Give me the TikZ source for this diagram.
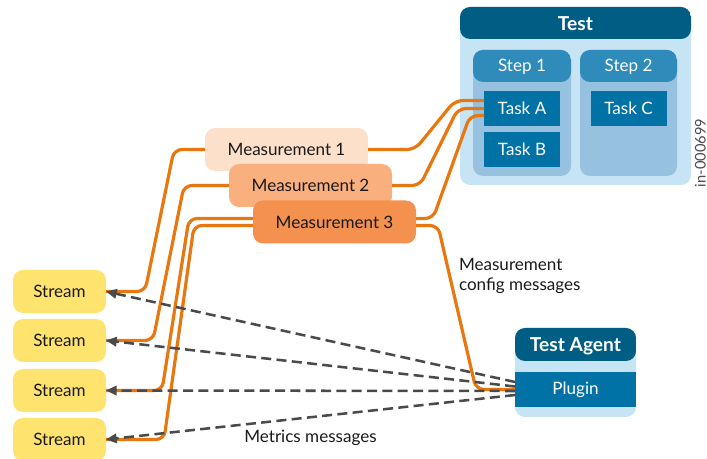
\documentclass[tikz,border=0pt]{standalone}
\usepackage{fontspec}
\setmainfont{Lato}
\usetikzlibrary{arrows.meta,calc}
\definecolor{darkblue}{HTML}{005E85}
\definecolor{testbody}{HTML}{C6E4F4}
\definecolor{stephead}{HTML}{2E8BBA}
\definecolor{stepbody}{HTML}{96C2E0}
\definecolor{taskblue}{HTML}{0072A6}
\definecolor{orangeln}{HTML}{E8770F}
\definecolor{mone}{HTML}{FDE0C9}
\definecolor{mtwo}{HTML}{F9B07E}
\definecolor{mthree}{HTML}{F4914F}
\definecolor{streamc}{HTML}{FFE36F}
\definecolor{dashc}{HTML}{4A4A4A}
\definecolor{txt}{HTML}{1A1A1A}
\begin{document}
\begin{tikzpicture}[x=0.75pt,y=-0.75pt,
  every node/.style={inner sep=0pt,outer sep=0pt},
  regfont/.style={font=\fontsize{12.8}{15.5}\selectfont},
  boldfont/.style={font=\fontsize{14.4}{17}\selectfont\bfseries},
  meas/.style={regfont,text=txt,rounded corners=7.5pt,minimum width=122.25pt,minimum height=32.25pt},
  streambox/.style={regfont,text=txt,fill=streamc,rounded corners=7.5pt,minimum width=69.75pt,minimum height=32.25pt},
  task/.style={regfont,text=white,fill=taskblue,minimum width=57pt,minimum height=26.25pt},
  headed/.style 2 args={rounded corners=7.5pt,fill=#1,path picture={\fill[#2] (path picture bounding box.north west) rectangle ([yshift=-24pt]path picture bounding box.north east);}},
  orangeline/.style={draw=orangeln,line width=2.4pt,rounded corners=6pt},
  msgline/.style={draw=dashc,line width=1.9pt,dash pattern=on 7.5pt off 4pt,-{Triangle[length=8pt,width=7pt]}},
  lbl/.style={regfont,text=txt}
]
\useasboundingbox (0,0) rectangle (707,459);

% Test block
\node[headed={testbody}{darkblue},minimum width=173.25pt,minimum height=133.5pt] (test) at (575.5,96) {};
\node[boldfont,text=white] (testtitle) at (575.5,23.5) {Test};
\node[headed={stepbody}{stephead},minimum width=73.5pt,minimum height=94.5pt] (step1) at (522,113) {};
\node[regfont,text=white] (step1title) at (522,66.5) {Step 1};
\node[headed={stepbody}{stephead},minimum width=72.75pt,minimum height=94.5pt] (step2) at (628.5,113) {};
\node[regfont,text=white] (step2title) at (628.5,66.5) {Step 2};
\node[task] (taskA) at (522,108.5) {Task A};
\node[task] (taskB) at (522,149.5) {Task B};
\node[task] (taskC) at (628.5,108.5) {Task C};

% Test agent
\node[rounded corners=7.5pt,fill=testbody,minimum width=90.75pt,minimum height=66.75pt,
  path picture={\fill[darkblue] (path picture bounding box.north west) rectangle ([yshift=-24.75pt]path picture bounding box.north east);}] (agent) at (575.5,372.5) {};
\node[boldfont,text=white] (agenttitle) at (575.5,346.5) {Test Agent};
\node[regfont,text=white,fill=taskblue,minimum width=90.75pt,minimum height=26.25pt] (plugin) at (575.5,389.5) {Plugin};

% Measurements
\node[meas,fill=mone] (m1) at (286.5,149.5) {Measurement 1};
\node[meas,fill=mtwo] (m2) at (310.5,185.5) {Measurement 2};
\node[meas,fill=mthree] (m3) at (334.5,222) {Measurement 3};

% Streams
\node[streambox] (s1) at (59.5,291.5) {Stream};
\node[streambox] (s2) at (59.5,340.5) {Stream};
\node[streambox] (s3) at (59.5,390.5) {Stream};
\node[streambox] (s4) at (59.5,439.5) {Stream};

% Orange connectors
\draw[orangeline] (s1.east) -- (145,291.5) -- (174,149.5) -- (m1.west);
\draw[orangeline] (s2.east) -- (153,340.5) -- (184,185.5) -- (m2.west);
\draw[orangeline] (s3.east) -- (162,390.5) -- (189,218.5) -- ($(m3.west)+(0,-3.5)$);
\draw[orangeline] (s4.east) -- (164,439.5) -- (194,225.5) -- ($(m3.west)+(0,3.5)$);
\draw[orangeline] (m1.east) -- (415,149.5) -- (455,100.5) -- ($(taskA.west)+(0,-8)$);
\draw[orangeline] (m2.east) -- (420,185.5) -- (458,108.5) -- (taskA.west);
\draw[orangeline] ($(m3.east)+(0,-3.5)$) -- (433,218.5) -- (470,115.5) -- ($(taskA.west)+(0,7)$);
\draw[orangeline] ($(m3.east)+(0,3.5)$) -- (438,225.5) -- (476,389.5) -- (plugin.west);

% Metrics messages (dashed)
\draw[msgline] ($(plugin.west)+(0,-7.5)$) -- (s1.east);
\draw[msgline] ($(plugin.west)+(0,-3)$) -- (s2.east);
\draw[msgline] ($(plugin.west)+(0,1.5)$) -- (s3.east);
\draw[msgline] ($(plugin.west)+(0,5.5)$) -- (s4.east);

% Labels
\node[lbl,align=left,anchor=north west] (cfglabel) at (459,258) {Measurement\\config messages};
\node[lbl] (metlabel) at (310.5,438) {Metrics messages};
\node[rotate=90,anchor=north,font=\fontsize{11}{12}\selectfont,text=dashc] (docid) at (695,153) {in-000699};
\end{tikzpicture}
\end{document}
